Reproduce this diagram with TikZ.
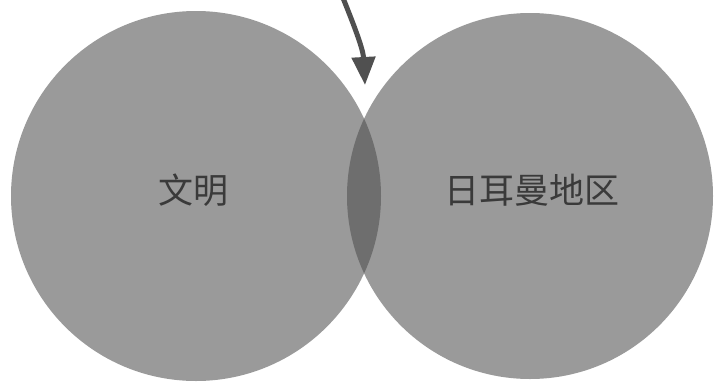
\documentclass[tikz,border=0pt]{standalone}
\usepackage{fontspec}
\newfontfamily\cjk{Noto Sans CJK SC}
\usetikzlibrary{arrows.meta}
\definecolor{disc}{HTML}{9A9A9A}
\definecolor{lens}{HTML}{6E6E6E}
\definecolor{arrowc}{HTML}{505050}
\definecolor{txt}{HTML}{3A3A3A}
\tikzset{
  setdisc/.style={circle, fill=disc, minimum size=370pt, inner sep=0pt},
  label/.style={font=\cjk\fontsize{35pt}{40pt}\selectfont, text=txt},
  pointer/.style={draw=arrowc, line width=5pt, -{Triangle[length=28pt,width=23pt]}}
}
\begin{document}
\begin{tikzpicture}[x=1pt,y=-1pt]
\useasboundingbox (0,0) rectangle (715,381);
\clip (0,0) rectangle (715,381);
\node[setdisc] (civ) at (196,196) {};
\node[setdisc, minimum size=366pt] (reg) at (530,196) {};
\begin{scope}
  \clip (196,196) circle[radius=185];
  \fill[lens] (530,196) circle[radius=183];
\end{scope}
\node[label] (civt) at (193,190) {文明};
\node[label] (regt) at (532,190) {日耳曼地区};
\coordinate (src) at (343,-2);
\coordinate (tip) at (365,85);
\draw[pointer] (src) to[out=-68,in=93] (tip);
\end{tikzpicture}
\end{document}
